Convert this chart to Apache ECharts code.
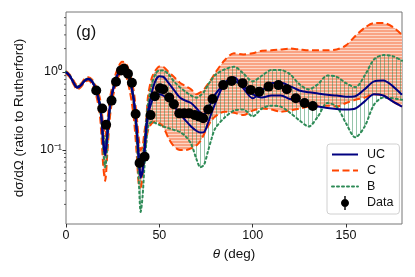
<!DOCTYPE html>
<html><head><meta charset="utf-8">
<script src="https://cdn.jsdelivr.net/npm/echarts@6/dist/echarts.min.js"></script>
<style>html,body{margin:0;padding:0;background:#fff}#c{width:415px;height:277px}</style>
</head><body><div id="c"></div>
<script>
// ---------- data ----------
const theta = [0,2,4,6,8,10,12,14,16,18,19,20,21,22,23,24,26,28,30,32,34,36,37,38,39,40,41,42,43,44,46,48,50,52,55,58,61,64,67,70,72,74,76,78,80,85,90,95,100,105,110,115,120,125,130,135,140,145,150,155,160,165,170,175,180];

const ucA = [1.0,0.9,0.74,0.64,0.68,0.78,0.82,0.76,0.6,0.4,0.26,0.13,0.09,0.15,0.28,0.44,0.72,0.98,1.18,1.12,0.85,0.5,0.32,0.17,0.08,0.046,0.055,0.1,0.2,0.32,0.55,0.78,0.88,0.87,0.72,0.58,0.47,0.43,0.4,0.34,0.3,0.29,0.33,0.42,0.52,0.7,0.76,0.66,0.52,0.47,0.5,0.5,0.45,0.42,0.38,0.36,0.345,0.335,0.33,0.34,0.42,0.52,0.5,0.42,0.36];
const ucB = [0.99,0.89,0.73,0.63,0.67,0.77,0.81,0.75,0.59,0.39,0.25,0.12,0.085,0.14,0.27,0.43,0.7,0.96,1.15,1.09,0.82,0.48,0.3,0.16,0.075,0.044,0.052,0.09,0.18,0.28,0.42,0.5,0.52,0.5,0.44,0.36,0.29,0.24,0.2,0.175,0.168,0.17,0.22,0.3,0.4,0.72,0.86,0.62,0.46,0.58,0.72,0.73,0.66,0.58,0.55,0.53,0.51,0.5,0.48,0.49,0.6,0.76,0.78,0.66,0.51];
const cUpper = [1.03,0.93,0.78,0.68,0.71,0.82,0.86,0.8,0.66,0.48,0.34,0.2,0.15,0.22,0.36,0.53,0.85,1.15,1.36,1.3,1.0,0.62,0.42,0.25,0.14,0.1,0.11,0.17,0.25,0.5,0.85,1.05,1.18,1.17,1.0,0.86,0.73,0.66,0.6,0.52,0.55,0.6,0.7,0.82,0.98,1.42,1.74,1.68,1.74,1.88,1.9,1.95,2.0,1.95,1.9,1.9,1.9,1.95,2.2,2.9,3.7,4.25,4.25,3.8,3.0];
const cLower = [0.96,0.86,0.7,0.6,0.64,0.74,0.78,0.7,0.52,0.3,0.15,0.06,0.04,0.08,0.18,0.33,0.6,0.86,1.0,0.9,0.6,0.3,0.17,0.08,0.036,0.033,0.045,0.08,0.13,0.18,0.22,0.23,0.22,0.2,0.14,0.11,0.1,0.1,0.105,0.115,0.13,0.16,0.2,0.24,0.27,0.31,0.3,0.28,0.32,0.34,0.33,0.31,0.32,0.34,0.36,0.37,0.37,0.36,0.4,0.44,0.47,0.52,0.5,0.42,0.36];
const bUpper = [1.01,0.91,0.75,0.65,0.69,0.79,0.83,0.77,0.62,0.42,0.28,0.16,0.12,0.18,0.3,0.46,0.74,1.0,1.2,1.14,0.87,0.52,0.34,0.19,0.1,0.07,0.08,0.13,0.24,0.4,0.7,0.95,1.05,1.05,0.93,0.75,0.64,0.56,0.5,0.47,0.5,0.56,0.68,0.8,0.92,1.08,1.17,0.96,0.76,0.9,1.06,1.06,0.94,0.7,0.6,0.7,0.9,0.87,0.72,0.64,0.9,1.45,1.65,1.6,1.4];
const bLower = [0.99,0.89,0.73,0.63,0.67,0.77,0.81,0.75,0.58,0.37,0.22,0.1,0.06,0.1,0.24,0.4,0.7,0.95,1.14,1.08,0.8,0.45,0.26,0.12,0.04,0.016,0.025,0.06,0.12,0.2,0.23,0.22,0.21,0.2,0.19,0.18,0.17,0.15,0.12,0.075,0.06,0.065,0.095,0.14,0.19,0.26,0.32,0.33,0.27,0.34,0.37,0.36,0.3,0.24,0.2,0.27,0.4,0.36,0.22,0.145,0.2,0.38,0.47,0.46,0.44];

const dataTheta = [16.2,19.4,21.5,24.4,26.8,29.5,31.0,33.2,35.3,37.3,39.4,42.1,45.3,47.6,50.3,52.1,55.3,57.8,60.7,63.3,66.0,69.0,71.4,73.5,76.2,78.5,84.2,88.7,94.6,98.9,103.5,108.5,113.8,118.3,123.1,127.8,132.2];
const dataValue = [0.58,0.34,0.21,0.43,0.75,1.05,1.1,0.95,0.73,0.29,0.068,0.082,0.28,0.49,0.62,0.6,0.47,0.385,0.295,0.295,0.295,0.28,0.268,0.255,0.33,0.45,0.68,0.77,0.72,0.59,0.56,0.65,0.68,0.6,0.46,0.40,0.367];

const xTicks = [0,50,100,150];
const yMajor = [0.1, 1];
const yMajorLabels = ['10\u207B\u00B9','10\u2070'];
const yMinor = [0.02,0.03,0.04,0.05,0.06,0.07,0.08,0.09,0.2,0.3,0.4,0.5,0.6,0.7,0.8,0.9,2,3,4,5];

// ---------- helpers ----------
const SMOOTH = 0.3;
const pts = ys => theta.map((t,i)=>[t, ys[i]]);

function stripePattern(w,h,draw){
  const cv = document.createElement('canvas'); cv.width=w; cv.height=h;
  const g = cv.getContext('2d'); draw(g); return {image: cv, repeat:'repeat'};
}
const salmon = stripePattern(4,3,g=>{
  g.fillStyle='rgb(249,163,132)'; g.fillRect(0,0,4,3);
  g.fillStyle='rgb(252,214,198)'; g.fillRect(0,2,4,1);
});
const greenHatch = stripePattern(4,4,g=>{
  g.fillStyle='rgba(46,139,87,0.5)'; g.fillRect(0,0,1,4);
});

function bandSeries(name, hi, lo, fill, z){
  return {type:'custom', name, silent:true, clip:true, z, data:[[0]],
    renderItem:(params, api)=>{
      const up = theta.map((t,i)=>api.coord([t, hi[i]]));
      const dn = theta.map((t,i)=>api.coord([t, lo[i]])).reverse();
      return {type:'polygon', shape:{points: up.concat(dn), smooth:SMOOTH}, style:{fill: fill, stroke:null}};
    }};
}

const FONT = 'Liberation Sans';
const NAVY='#000080', ORANGE='#ff4500', GREEN='#2e8b57';

const chart = echarts.init(document.getElementById('c'), null, {renderer:'canvas'});
const base = {type:'line', smooth:SMOOTH, symbol:'none', silent:true};
const noSym = {opacity:0};

chart.setOption({
  animation:false,
  textStyle:{fontFamily:FONT},
  grid:{left:66, right:13, top:12, bottom:53, show:true, borderColor:'#777', borderWidth:1},
  xAxis:{type:'value', min:0, max:180, interval:50,
    axisLine:{show:false}, splitLine:{show:false},
    axisTick:{show:true, length:3.5, lineStyle:{color:'#333'}},
    axisLabel:{color:'#111', fontSize:12.5, margin:5, showMaxLabel:false, fontFamily:FONT},
    name:'{i|\u03B8} (deg)', nameLocation:'middle', nameGap:23,
    nameTextStyle:{color:'#111', fontSize:13.5, fontFamily:FONT, rich:{i:{fontStyle:'italic', fontSize:13.5, fontFamily:FONT}}}
  },
  yAxis:{type:'log', logBase:10, min:0.0112, max:5.9,
    axisLine:{show:false}, splitLine:{show:false}, minorTick:{show:false},
    axisTick:{show:true, length:3.5, lineStyle:{color:'#333'}},
    axisLabel:{color:'#111', fontSize:12.5, margin:4, showMinLabel:false, showMaxLabel:false, fontFamily:FONT,
      formatter:v=>{ const k = yMajor.findIndex(m=>Math.abs(m-v)/m<1e-6); return k>=0? yMajorLabels[k]:''; }},
    name:'d\u03C3/d\u03A9 (ratio to Rutherford)', nameLocation:'middle', nameGap:40,
    nameTextStyle:{color:'#111', fontSize:13.5, fontFamily:FONT}
  },
  legend:{left:327, top:144, orient:'vertical', itemWidth:26, itemHeight:14, itemGap:3,
    padding:[4,6,4,4], backgroundColor:'rgba(255,255,255,0.85)', borderColor:'#d0d0d0', borderWidth:1, borderRadius:3,
    textStyle:{fontSize:12.5, color:'#111', fontFamily:FONT, padding:[0,0,0,4]},
    data:[{name:'UC', itemStyle:noSym},{name:'C', itemStyle:noSym},{name:'B', itemStyle:noSym},
      {name:'Data', icon:'path://M6.3,0 L7.7,0 L7.7,14 L6.3,14 Z M3,7 C3,4.79 4.79,3 7,3 C9.21,3 11,4.79 11,7 C11,9.21 9.21,11 7,11 C4.79,11 3,9.21 3,7 Z', itemStyle:{color:'#000', opacity:1}}]
  },
  series:[
    bandSeries('cBand', cUpper, cLower, salmon, 1),
    bandSeries('bBand', bUpper, bLower, greenHatch, 2),
    Object.assign({}, base, {name:'C', data:pts(cUpper), color:ORANGE, lineStyle:{color:ORANGE, width:2, type:[7,3.5]}, z:3}),
    Object.assign({}, base, {name:'C', data:pts(cLower), color:ORANGE, lineStyle:{color:ORANGE, width:2, type:[7,3.5]}, z:3}),
    Object.assign({}, base, {name:'B', data:pts(bUpper), color:GREEN, lineStyle:{color:GREEN, width:2, type:[2,3], cap:'round'}, z:4}),
    Object.assign({}, base, {name:'B', data:pts(bLower), color:GREEN, lineStyle:{color:GREEN, width:2, type:[2,3], cap:'round'}, z:4}),
    Object.assign({}, base, {name:'UC', data:pts(ucA), color:NAVY, lineStyle:{color:NAVY, width:2}, z:5}),
    Object.assign({}, base, {name:'UC', data:pts(ucB), color:NAVY, lineStyle:{color:NAVY, width:2}, z:5}),
    {type:'scatter', name:'Data', data:dataTheta.map((t,i)=>[t,dataValue[i]]), symbol:'circle', symbolSize:10,
      itemStyle:{color:'#000', opacity:1}, z:6, silent:true},
    {type:'custom', name:'minorTicks', silent:true, clip:false, z:7,
      data:yMinor.map(v=>[0,v]),
      renderItem:(params, api)=>{
        const p = api.coord([0, api.value(1)]);
        return {type:'line', shape:{x1:p[0]-2, y1:p[1], x2:p[0], y2:p[1]}, style:{stroke:'#333', lineWidth:0.8}};
      }}
  ],
  graphic:[{type:'text', left:76, top:24, style:{text:'(g)', fontSize:16.5, fill:'#111', fontFamily:FONT}}]
});
</script></body></html>
